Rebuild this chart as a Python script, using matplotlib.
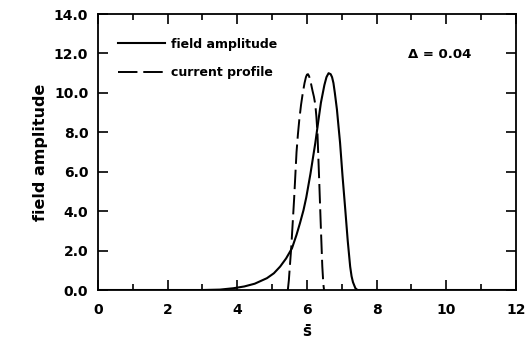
import matplotlib
matplotlib.use("Agg")
import matplotlib.pyplot as plt
from matplotlib.ticker import MultipleLocator, FormatStrFormatter

# field amplitude (solid)
field_s = [0.0, 3.0, 3.5, 3.89, 4.2, 4.5, 4.85, 5.05, 5.23, 5.4, 5.57, 5.7,
           5.80, 5.9, 5.98, 6.1, 6.24, 6.32, 6.40, 6.5, 6.56, 6.62, 6.68,
           6.72, 6.76, 6.80, 6.86, 6.90, 6.95, 7.02, 7.10, 7.17, 7.24, 7.28,
           7.32, 7.39, 7.45, 8.0, 12.0]
field_amp = [0.0, 0.0, 0.02, 0.09, 0.18, 0.32, 0.6, 0.85, 1.19, 1.6, 2.12,
             2.8, 3.4, 4.05, 4.7, 5.9, 7.47, 8.5, 9.5, 10.4, 10.8, 11.0,
             10.95, 10.8, 10.5, 10.0, 9.16, 8.4, 7.47, 5.8, 4.07, 2.5, 1.19,
             0.7, 0.4, 0.09, 0.0, 0.0, 0.0]

# current profile (dashed)
current_s = [5.45, 5.48, 5.50, 5.55, 5.59, 5.63, 5.70, 5.74, 5.78, 5.83,
             5.88, 5.93, 5.97, 6.00, 6.03, 6.06, 6.10, 6.16, 6.20, 6.24,
             6.27, 6.30, 6.35, 6.40, 6.44, 6.47, 6.49]
current_amp = [0.0, 0.5, 1.0, 2.2, 3.4, 4.6, 7.0, 7.9, 8.65, 9.4, 10.0,
               10.5, 10.8, 10.93, 10.95, 10.85, 10.6, 10.1, 9.8, 9.4, 8.8,
               8.0, 5.6, 3.1, 1.2, 0.3, 0.0]

labels = ["field amplitude", "current profile"]

plt.rcParams['font.family'] = ['DejaVu Sans']
plt.rcParams['font.weight'] = 'bold'
plt.rcParams['font.size'] = 9.5
plt.rcParams['mathtext.fontset'] = 'custom'
plt.rcParams['mathtext.bf'] = 'DejaVu Sans:bold'
plt.rcParams['mathtext.rm'] = 'DejaVu Sans:bold'

fig = plt.figure(figsize=(5.27, 3.43), dpi=100)
ax = fig.add_axes([0.186, 0.1545, 0.793, 0.8045])

ax.plot(field_s, field_amp, color='black', lw=1.5, label=labels[0])
ax.plot(current_s, current_amp, color='black', lw=1.4, dashes=(10, 3),
        label=labels[1])

ax.set_xlim(0, 12)
ax.set_ylim(0, 14)
ax.xaxis.set_major_locator(MultipleLocator(2))
ax.xaxis.set_minor_locator(MultipleLocator(1))
ax.yaxis.set_major_locator(MultipleLocator(2))
ax.yaxis.set_major_formatter(FormatStrFormatter('%.1f'))
ax.tick_params(which='both', direction='in', top=True, right=True, width=1.2)
ax.tick_params(which='major', length=7, labelsize=10, pad=7)
ax.tick_params(axis='x', which='major', pad=9)
ax.tick_params(which='minor', length=4)
for sp in ax.spines.values():
    sp.set_linewidth(1.3)

ax.set_xlabel(r'$\bar{\mathbf{s}}$', fontsize=11, labelpad=5)
ax.set_ylabel('field amplitude', fontsize=11.5, fontweight='bold', labelpad=4)

ax.legend(loc='upper left', bbox_to_anchor=(0.02, 0.955), frameon=False,
          handlelength=3.8, handletextpad=0.5, labelspacing=1.25,
          prop={'weight': 'bold', 'size': 9})

ax.text(0.818, 0.855, '\u0394 = 0.04', transform=ax.transAxes,
        ha='center', va='center', fontsize=9.5, fontweight='bold')

fig.savefig('out.png', dpi=100)
